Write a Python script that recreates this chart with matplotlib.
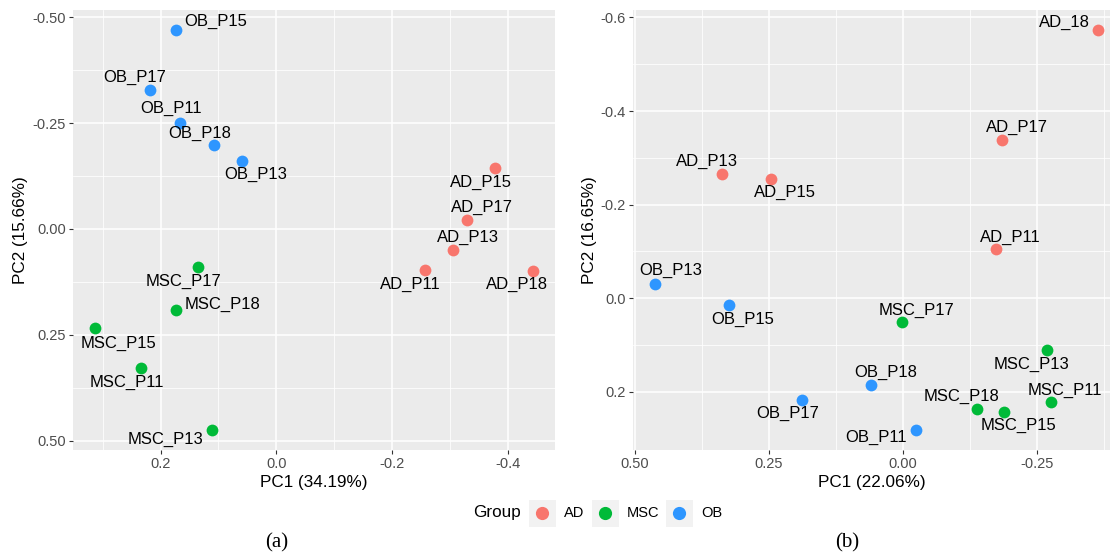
import matplotlib.pyplot as plt
from matplotlib.ticker import FixedLocator
from matplotlib.patches import Rectangle

plt.rcParams['font.family'] = ['Liberation Sans', 'DejaVu Sans']

colours = {'AD': '#F8766D', 'MSC': '#00BA38', 'OB': '#2E96FF'}
groups = ['AD', 'MSC', 'OB']

# panel (a)
a_names = ['OB_P15', 'OB_P17', 'OB_P11', 'OB_P18', 'OB_P13',
           'AD_P15', 'AD_P17', 'AD_P13', 'AD_P11', 'AD_P18',
           'MSC_P17', 'MSC_P18', 'MSC_P15', 'MSC_P11', 'MSC_P13']
a_pc1 = [0.173, 0.219, 0.166, 0.108, 0.060,
         -0.378, -0.329, -0.305, -0.257, -0.443,
         0.135, 0.174, 0.313, 0.233, 0.111]
a_pc2 = [-0.470, -0.328, -0.251, -0.198, -0.160,
         -0.143, -0.020, 0.050, 0.097, 0.100,
         0.090, 0.191, 0.235, 0.329, 0.475]

# panel (b)
b_names = ['AD_18', 'AD_P17', 'AD_P13', 'AD_P15', 'AD_P11',
           'OB_P13', 'OB_P15', 'MSC_P17', 'MSC_P13', 'OB_P18',
           'OB_P17', 'MSC_P18', 'MSC_P15', 'MSC_P11', 'OB_P11']
b_pc1 = [-0.363, -0.185, 0.337, 0.246, -0.174,
         0.462, 0.324, 0.001, -0.268, 0.060,
         0.188, -0.139, -0.189, -0.276, -0.024]
b_pc2 = [-0.573, -0.337, -0.266, -0.255, -0.105,
         -0.031, 0.014, 0.052, 0.112, 0.187,
         0.218, 0.238, 0.244, 0.223, 0.282]

# label offsets in pixels (dx right, dy down)
a_offsets = [(40, -8), (-15, -13), (-9, -14), (-14, -12), (14, 13),
             (-14, 14), (15, -13), (15, -13), (-15, 14), (-16, 13),
             (-15, 14), (47, -5), (23, 15), (-15, 14), (-47, 9)]
b_offsets = [(-33, -8), (15, -13), (-15, -12), (14, 14), (14, -12),
             (16, -13), (14, 15), (14, -12), (-15, 14), (15, -13),
             (-14, 13), (-16, -13), (14, 13), (14, -12), (-40, 8)]


def group_of(name):
    return name.split('_')[0]


def draw_panel(ax, names, xs, ys, offsets, xlim, ylim, xticks, xlabels,
               yticks, ylabels, xminor, yminor, xtitle, ytitle):
    ax.set_facecolor('#EBEBEB')
    for s in ax.spines.values():
        s.set_visible(False)
    ax.set_xlim(xlim)
    ax.set_ylim(ylim)
    ax.xaxis.set_major_locator(FixedLocator(xticks))
    ax.yaxis.set_major_locator(FixedLocator(yticks))
    ax.xaxis.set_minor_locator(FixedLocator(xminor))
    ax.yaxis.set_minor_locator(FixedLocator(yminor))
    ax.set_xticklabels(xlabels)
    ax.set_yticklabels(ylabels)
    ax.grid(which='major', color='white', lw=1.1)
    ax.grid(which='minor', color='white', lw=0.55)
    ax.set_axisbelow(True)
    ax.tick_params(which='major', direction='out', length=3, width=0.8, pad=2,
                   color='#333333', labelcolor='#4D4D4D', labelsize=10.5)
    ax.tick_params(which='minor', length=0)
    for n, x, y, off in zip(names, xs, ys, offsets):
        g = group_of(n)
        ax.scatter(x, y, s=72, color=colours[g], zorder=3, linewidths=0)
        ax.annotate(n, (x, y), xytext=(off[0], -off[1]),
                    textcoords='offset pixels', ha='center', va='center',
                    fontsize=12, color='black', zorder=4)
    ax.set_xlabel(xtitle, fontsize=12.3, labelpad=3)
    ax.set_ylabel(ytitle, fontsize=12.3, labelpad=3)


fig = plt.figure(figsize=(11.15, 5.56), dpi=100)
ax1 = fig.add_axes([0.0655, 0.1906, 0.4323, 0.7914])
ax2 = fig.add_axes([0.5677, 0.1906, 0.4278, 0.7914])

draw_panel(ax1, a_names, a_pc1, a_pc2, a_offsets,
           (0.351, -0.481), (0.522, -0.517),
           [0.2, 0.0, -0.2, -0.4], ['0.2', '0.0', '-0.2', '-0.4'],
           [-0.5, -0.25, 0.0, 0.25, 0.5], ['-0.50', '-0.25', '0.00', '0.25', '0.50'],
           [0.3, 0.1, -0.1, -0.3], [-0.375, -0.125, 0.125, 0.375],
           'PC1 (34.19%)', 'PC2 (15.66%)')

draw_panel(ax2, b_names, b_pc1, b_pc2, b_offsets,
           (0.503, -0.386), (0.325, -0.616),
           [0.5, 0.25, 0.0, -0.25], ['0.50', '0.25', '0.00', '-0.25'],
           [-0.6, -0.4, -0.2, 0.0, 0.2], ['-0.6', '-0.4', '-0.2', '0.0', '0.2'],
           [0.375, 0.125, -0.125, -0.375], [-0.5, -0.3, -0.1, 0.1],
           'PC1 (22.06%)', 'PC2 (16.65%)')

# legend drawn in a pixel-space overlay axes
lax = fig.add_axes([0, 0, 1, 1], zorder=-1)
lax.set_xlim(0, 1115)
lax.set_ylim(556, 0)
lax.axis('off')
lax.text(497, 513, 'Group', ha='center', va='center', fontsize=12.3)
key_x = [542, 605, 679]
for g, kx in zip(groups, key_x):
    lax.add_patch(Rectangle((kx - 13.5, 499.5), 27, 27, color='#F2F2F2', lw=0))
    lax.plot([kx], [513], 'o', color=colours[g], markersize=9.5, markeredgewidth=0)
    lax.text(kx + 22, 513, g, ha='left', va='center', fontsize=10.5)

fig.text(0.2485, 0.023, '(a)', ha='center', va='center', fontsize=15,
         family=['Liberation Serif', 'DejaVu Serif'])
fig.text(0.7596, 0.023, '(b)', ha='center', va='center', fontsize=15,
         family=['Liberation Serif', 'DejaVu Serif'])

fig.savefig('out.png', dpi=100)
